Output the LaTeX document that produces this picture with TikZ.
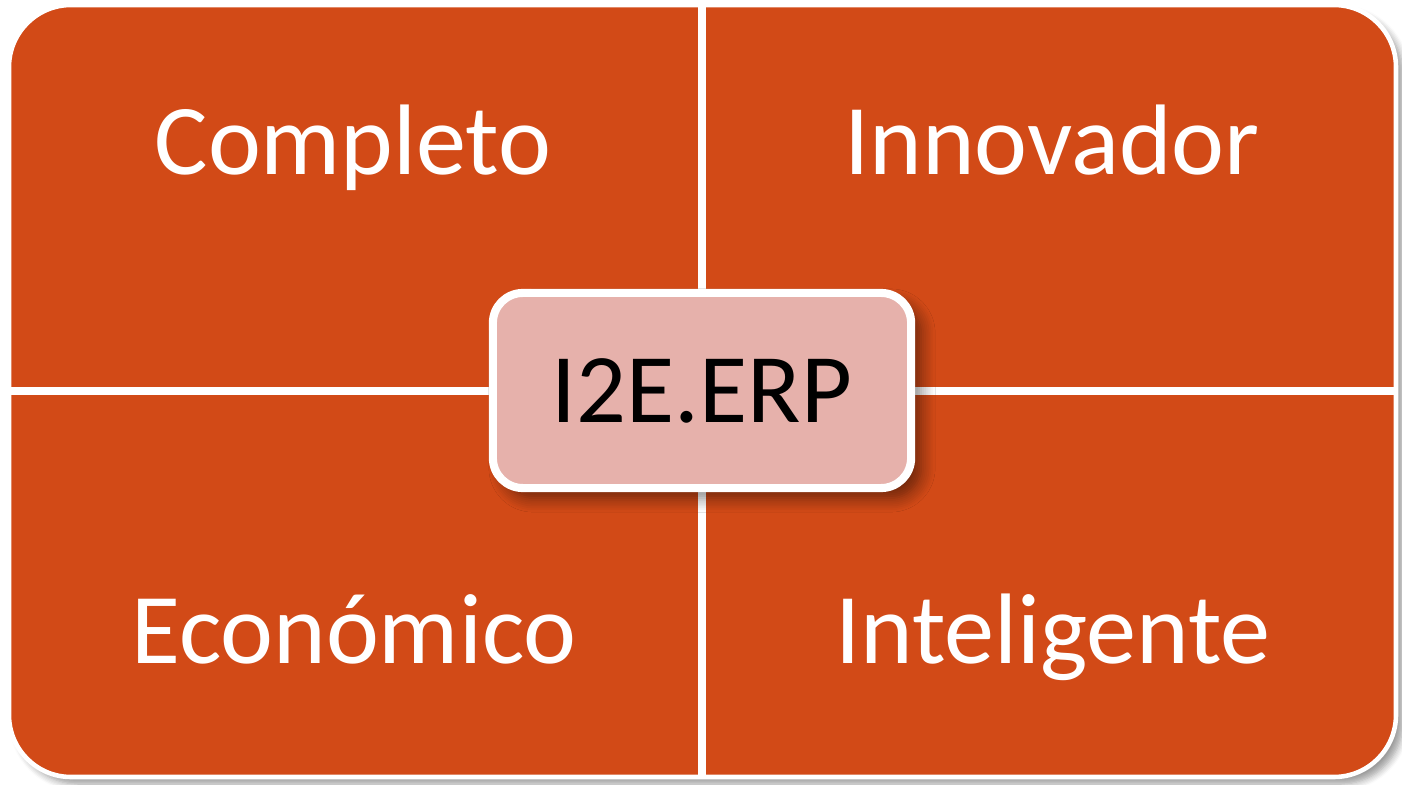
\documentclass[tikz,border=0pt]{standalone}
\usepackage{fontspec}
\setmainfont{Carlito}
\usetikzlibrary{positioning,shadows.blur}
\definecolor{quadorange}{HTML}{D24A17}
\definecolor{hubpink}{HTML}{E6B1AB}
\tikzset{%
	panel/.style    = {fill=quadorange, draw=white, line width=1.3pt, rounded corners=0.62cm,
	                   blur shadow={shadow xshift=0.07cm, shadow yshift=-0.07cm, shadow blur steps=6, shadow opacity=40}},
	divider/.style  = {draw=white, line width=2.3pt},
	label/.style    = {text=white, anchor=base, font=\fontsize{28.5}{34}\selectfont},
	hub/.style      = {draw=white, fill=hubpink, line width=2.3pt, rounded corners=0.3cm,
	                   minimum width=4.18cm, minimum height=1.95cm, text=black,
	                   font=\fontsize{28}{34}\selectfont,
	                   blur shadow={shadow xshift=0.1cm, shadow yshift=-0.1cm, shadow blur radius=0.14cm, shadow blur steps=8, shadow opacity=50}},
}
\begin{document}
\begin{tikzpicture}[x=0.01cm,y=-0.01cm]
	\useasboundingbox (0,0) rectangle (1402,785);
	% panel and cross
	\path[panel] (9,5) rectangle (1396,777);
	\draw[divider] (702,3) -- (702,779);
	\draw[divider] (7,391) -- (1398,391);
	% labels
	\node [label] (comp) at (353,175) {Completo};
	\node [label] (inno) at (1052,175) {Innovador};
	\node [label] (econ) at (354,663) {Económico};
	\node [label] (inte) at (1053,663) {Inteligente};
	% centre
	\node [hub] (erp) at (702,390.5) {I2E.ERP};
\end{tikzpicture}
\end{document}
